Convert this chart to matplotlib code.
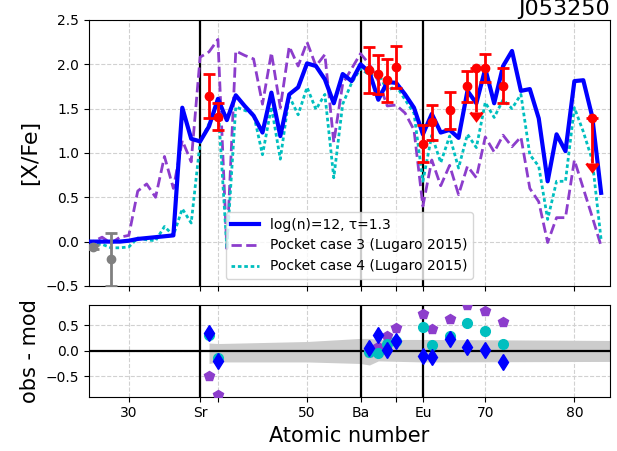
import numpy as np
import matplotlib
matplotlib.use('Agg')
import matplotlib.pyplot as plt

# atomic numbers of the model curves
z_model = list(range(25, 84))

# log(n)=12, tau=1.3
model_main = [0.0, 0.0, 0.0, 0.0, 0.0, 0.01, 0.03, 0.04, 0.05, 0.06,
              0.07, 1.51, 1.16, 1.13, 1.30, 1.61, 1.37, 1.65, 1.53, 1.42,
              1.23, 1.68, 1.19, 1.66, 1.74, 2.01, 1.98, 1.83, 1.56, 1.89,
              1.81, 2.00, 1.91, 1.60, 1.80, 1.79, 1.66, 1.51, 1.21, 1.44,
              1.23, 1.26, 1.17, 1.70, 1.56, 1.95, 1.56, 1.98, 2.15, 1.70,
              1.72, 1.39, 0.68, 1.21, 1.02, 1.81, 1.82, 1.41, 0.55]
# Pocket case 3 (Lugaro 2015)
model_case3 = [0.0, 0.0, 0.05, -0.02, 0.05, 0.07, 0.57, 0.65, 0.50, 0.96,
               0.60, 1.14, 0.90, 2.08, 2.14, 2.28, -0.08, 2.15, 2.10, 2.06,
               1.55, 2.13, 1.51, 2.20, 1.98, 2.25, 1.98, 2.11, 1.12, 1.78,
               1.95, 2.12, 2.00, 1.81, 1.53, 1.54, 1.45, 1.26, 0.40, 0.92,
               0.63, 0.86, 0.53, 0.85, 0.72, 1.18, 1.01, 1.20, 1.07, 1.18,
               0.60, 0.45, -0.01, 0.27, 0.27, 0.92, 0.60, 0.28, -0.05]
# Pocket case 4 (Lugaro 2015)
model_case4 = [-0.03, -0.03, -0.03, -0.07, -0.07, -0.06, 0.04, 0.02, 0.01, 0.17,
               0.07, 0.37, 0.21, 1.12, 1.33, 1.56, -0.07, 1.52, 1.48, 1.44,
               0.98, 1.52, 0.93, 1.64, 1.43, 1.74, 1.49, 1.66, 0.72, 1.55,
               1.79, 1.95, 1.88, 1.90, 1.70, 1.76, 1.60, 1.45, 0.68, 1.20,
               0.89, 1.19, 0.83, 1.21, 1.06, 1.57, 1.40, 1.60, 1.50, 1.66,
               0.98, 0.85, 0.25, 0.68, 0.68, 1.51, 1.24, 0.92, 0.02]

# observed abundances
z_obs = [39, 40, 57, 58, 59, 60, 63, 64, 66, 68, 70, 72]
xfe_obs = [1.64, 1.41, 1.94, 1.89, 1.82, 1.97, 1.105, 1.345, 1.48, 1.75, 1.96, 1.76]
err_obs = [0.25, 0.15, 0.26, 0.22, 0.24, 0.24, 0.21, 0.20, 0.21, 0.17, 0.16, 0.20]

# upper limits
z_ul = [69, 82]
xfe_ul = [1.96, 1.39]

# elements not used in the fit
z_grey = [26, 28]
xfe_grey = [-0.06, -0.20]
err_grey = [0.02, 0.30]

# residuals obs - mod
res_main = [0.34, -0.20, 0.05, 0.31, 0.01, 0.18, -0.10, -0.12, 0.22, 0.08, 0.01, -0.22]
res_case4 = [0.31, -0.15, -0.03, -0.05, 0.14, 0.19, 0.46, 0.11, 0.29, 0.54, 0.39, 0.13]
res_case3 = [-0.50, -0.87, -0.03, 0.08, 0.29, 0.44, 0.71, 0.42, 0.62, 0.90, 0.78, 0.56]

# model uncertainty band
z_band = [39, 40, 50, 56, 57, 58, 63, 84]
band_hi = [0.15, 0.14, 0.18, 0.24, 0.24, 0.22, 0.22, 0.20]
band_lo = [-0.25, -0.22, -0.22, -0.25, -0.28, -0.20, -0.22, -0.21]

tick_pos = [30, 38, 40, 50, 56, 60, 63, 70, 80]
tick_lab = ['30', 'Sr', '', '50', 'Ba', '', 'Eu', '70', '80']
peaks = [38, 56, 63]

purple = '#8c3dcc'

fig = plt.figure(figsize=(6.17, 4.51), dpi=100)
ax = fig.add_axes([0.1438, 0.366, 0.8449, 0.5898])
ax2 = fig.add_axes([0.1438, 0.1204, 0.8449, 0.204])

for a in (ax, ax2):
    a.grid(True, ls='--', color='0.82', lw=0.8)
    a.set_axisbelow(True)
    for p in peaks:
        a.axvline(p, color='k', lw=1.6, zorder=2)
    a.set_xticks(tick_pos)
    a.set_xlim(25.5, 84)

ax.plot(z_model, model_main, color='b', lw=3, label='log(n)=12, τ=1.3', zorder=4)
ax.plot(z_model, model_case3, color=purple, ls='--', lw=2,
        label='Pocket case 3 (Lugaro 2015)', zorder=3)
ax.plot(z_model, model_case4, color='c', ls=(0, (1.3, 1.0)), lw=2,
        label='Pocket case 4 (Lugaro 2015)', zorder=3)

ax.errorbar(z_obs, xfe_obs, yerr=err_obs, fmt='o', color='r', ms=6,
            elinewidth=2, capsize=4, capthick=2, zorder=6)
ax.errorbar(z_ul, xfe_ul, yerr=0.5, uplims=True, fmt='o', color='r', ms=6,
            elinewidth=2, capsize=4, capthick=2, zorder=6)
ax.errorbar(z_grey, xfe_grey, yerr=err_grey, fmt='o', color='grey', ms=6,
            elinewidth=2, capsize=4, capthick=2, zorder=6)

ax.set_ylim(-0.5, 2.5)
ax.set_xticklabels([])
ax.set_ylabel('[X/Fe]', fontsize=16)
ax.set_title('J053250', loc='right', fontsize=16, pad=3.6)
ax.legend(loc='lower center', fontsize=10)

ax2.fill_between(z_band, band_lo, band_hi, color='0.8', lw=0, zorder=1)
ax2.axhline(0, color='k', lw=1.6, zorder=2)
ax2.plot(z_obs, res_case3, 'p', color=purple, ms=7, zorder=4)
ax2.plot(z_obs, res_case4, 'o', color='c', ms=7, zorder=4)
ax2.plot(z_obs, res_main, 'd', color='b', ms=8, zorder=5)
ax2.set_ylim(-0.9, 0.9)
ax2.set_yticks([-0.5, 0.0, 0.5])
ax2.set_xticklabels(tick_lab)
ax2.set_ylabel('obs - mod', fontsize=15)
ax2.set_xlabel('Atomic number', fontsize=15)

fig.savefig('out.png', dpi=100)
